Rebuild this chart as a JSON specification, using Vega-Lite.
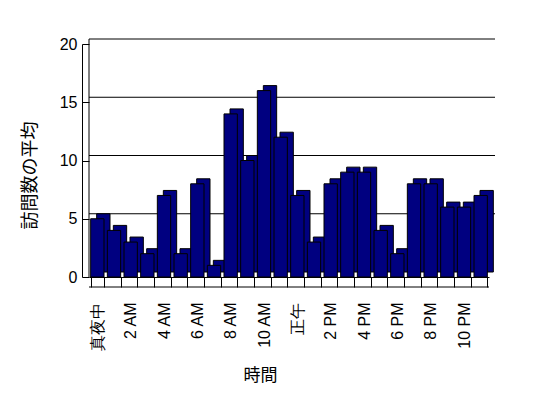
{
  "$schema": "https://vega.github.io/schema/vega-lite/v6.json",
  "autosize": "none",
  "width": 400,
  "height": 233,
  "padding": {"left": 89, "top": 44, "right": 59, "bottom": 121},
  "background": "white",
  "config": {"view": {"stroke": null}},
  "datasets": {
    "visits": [
      {"hour": 0, "avg": 5}, {"hour": 1, "avg": 4}, {"hour": 2, "avg": 3}, {"hour": 3, "avg": 2},
      {"hour": 4, "avg": 7}, {"hour": 5, "avg": 2}, {"hour": 6, "avg": 8}, {"hour": 7, "avg": 1},
      {"hour": 8, "avg": 14}, {"hour": 9, "avg": 10}, {"hour": 10, "avg": 16}, {"hour": 11, "avg": 12},
      {"hour": 12, "avg": 7}, {"hour": 13, "avg": 3}, {"hour": 14, "avg": 8}, {"hour": 15, "avg": 9},
      {"hour": 16, "avg": 9}, {"hour": 17, "avg": 4}, {"hour": 18, "avg": 2}, {"hour": 19, "avg": 8},
      {"hour": 20, "avg": 8}, {"hour": 21, "avg": 6}, {"hour": 22, "avg": 6}, {"hour": 23, "avg": 7}
    ],
    "grid": [{"v": 5}, {"v": 10}, {"v": 15}, {"v": 20}],
    "floor": [{"v": 0}]
  },
  "layer": [
    {
      "data": {"name": "grid"},
      "mark": {"type": "rule", "color": "black", "strokeWidth": 1, "xOffset": 6, "yOffset": -5},
      "encoding": {"y": {"field": "v", "type": "quantitative", "scale": {"domain": [0, 20]}}}
    },
    {
      "data": {"name": "floor"},
      "mark": {"type": "rule", "color": "black", "strokeWidth": 1, "yOffset": 10},
      "encoding": {"y": {"field": "v", "type": "quantitative"}}
    },
    {
      "data": {"name": "floor"},
      "mark": {"type": "rule", "color": "black", "strokeWidth": 1, "y2Offset": -5},
      "encoding": {"x": {"value": 0}, "y": {"datum": 0, "type": "quantitative"}, "y2": {"datum": 20}}
    },
    {
      "data": {"name": "visits"},
      "mark": {"type": "bar", "fill": "#000080", "stroke": "black", "strokeWidth": 1, "xOffset": 6, "yOffset": -5},
      "encoding": {
        "x": {"field": "hour", "type": "ordinal", "scale": {"paddingInner": 0.2, "paddingOuter": 0.1}},
        "y": {"field": "avg", "type": "quantitative"}
      }
    },
    {
      "data": {"name": "visits"},
      "mark": {"type": "bar", "fill": "#000080", "stroke": "black", "strokeWidth": 1},
      "encoding": {
        "x": {
          "field": "hour", "type": "ordinal",
          "axis": {
            "title": "時間",
            "titleFont": "Noto Sans CJK JP", "titleFontSize": 17, "titleFontWeight": "normal", "titleColor": "black",
            "titleX": 171, "titleY": 98, "titleAlign": "center", "titleBaseline": "middle", "titleAnchor": null,
            "labelAngle": -90, "labelAlign": "right", "labelBaseline": "middle",
            "labelFont": "Liberation Sans", "labelFontSize": 16, "labelColor": "black",
            "labelPadding": 15, "labelOverlap": false,
            "labelExpr": "datum.value % 2 == 1 ? '' : ['真夜中','2 AM','4 AM','6 AM','8 AM','10 AM','正午','2 PM','4 PM','6 PM','8 PM','10 PM'][datum.value / 2]",
            "tickBand": "extent", "tickSize": 10, "tickColor": "black", "domainColor": "black"
          }
        },
        "y": {
          "field": "avg", "type": "quantitative",
          "axis": {
            "title": "訪問数の平均", "values": [0, 5, 10, 15, 20], "grid": false,
            "titleFont": "Noto Sans CJK JP", "titleFontSize": 18, "titleFontWeight": "normal", "titleColor": "black",
            "titleAngle": -90, "titleX": -52, "titleY": 131, "titleAlign": "center", "titleBaseline": "middle", "titleAnchor": null,
            "labelFont": "Liberation Sans", "labelFontSize": 16, "labelColor": "black", "labelPadding": 12,
            "offset": 7, "tickSize": -7, "tickColor": "black", "domainColor": "black"
          }
        }
      }
    }
  ]
}
